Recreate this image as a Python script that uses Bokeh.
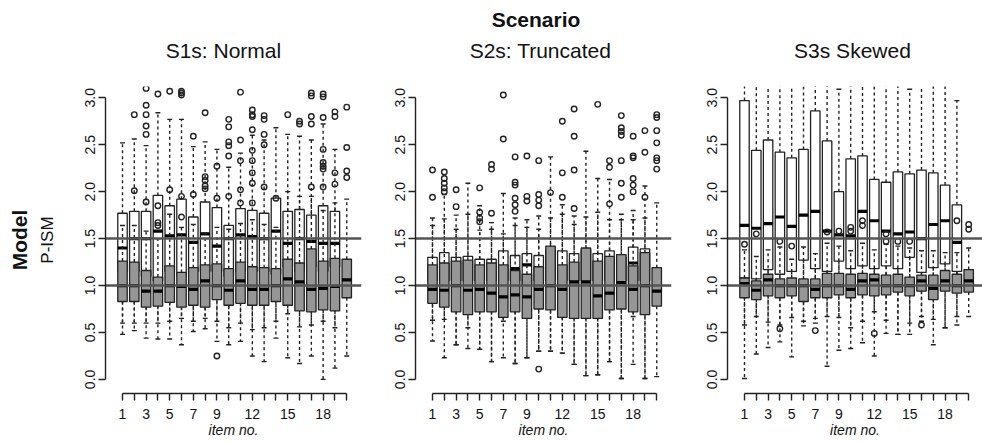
import math
from bokeh.plotting import figure
from bokeh.layouts import row, column
from bokeh.models import FixedTicker, PrintfTickFormatter, Title, Range1d, ColumnDataSource, Label
from bokeh.embed import file_html
from bokeh.resources import INLINE

NAN = float("nan")

# ---------------- data ----------------
items = list(range(1, 21))
x_labels_shown = [1, 3, 5, 7, 9, 12, 15, 18]
y_ticks = [0.0, 0.5, 1.0, 1.5, 2.0, 2.5, 3.0]
ref_lines = [1.0, 1.5]
panel_titles = ["S1s: Normal", "S2s: Truncated", "S3s Skewed"]
super_title = "Scenario"
row_title = "Model"
y_label = "P-ISM"
x_label = "item no."

# Panel S1s (white = first model, gray = second model)
s1_w_q1 = [1.15, 1.15, 1.10, 1.05, 1.15, 1.10, 1.15, 1.15, 1.15, 1.10, 1.15, 1.15, 1.15, 1.12, 1.20, 1.15, 1.20, 1.15, 1.20, NAN]
s1_w_med = [1.40, 1.50, 1.50, 1.58, 1.53, 1.54, 1.46, 1.55, 1.42, 1.50, 1.54, 1.52, 1.50, 1.58, 1.45, 1.50, 1.47, 1.45, 1.45, NAN]
s1_w_q3 = [1.77, 1.79, 1.79, 1.96, 1.85, 1.92, 1.73, 1.89, 1.83, 1.64, 1.82, 1.80, 1.77, 1.93, 1.79, 1.81, 1.75, 1.85, 1.79, NAN]
s1_w_lo = [0.60, 0.60, 0.60, 0.60, 0.62, 0.65, 0.62, 0.65, 0.62, 0.55, 0.60, 0.53, 0.55, 0.62, 0.70, 0.56, 0.58, 0.62, 0.55, NAN]
s1_w_hi = [2.52, 2.56, 2.49, 2.84, 2.77, 2.77, 2.48, 2.53, 2.45, 2.26, 2.41, 2.60, 2.55, 2.68, 2.61, 2.59, 2.55, 2.72, 2.45, NAN]
s1_w_out = [[], [2.82], [3.10, 2.92, 2.82, 2.70, 2.61], [3.04], [3.07], [3.07, 3.05, 3.03], [2.59], [2.84], [],
            [2.77, 2.69, 2.53, 2.49, 2.38], [3.06, 2.55], [2.87, 2.82, 2.80, 2.66], [2.81, 2.77, 2.61], [], [2.82],
            [2.75, 2.72], [3.05, 3.02, 2.80, 2.72], [3.04, 3.01, 2.79], [2.85, 2.80], []]
s1_g_q1 = [0.83, 0.83, 0.77, 0.78, 0.82, 0.77, 0.79, 0.77, 0.85, 0.79, 0.81, 0.79, 0.79, 0.83, 0.79, 0.73, 0.72, 0.74, 0.73, 0.87]
s1_g_med = [1.00, 1.00, 0.94, 0.94, 1.00, 0.99, 0.96, 1.05, 1.00, 0.95, 1.05, 0.96, 0.96, 1.00, 1.07, 1.04, 0.96, 0.97, 0.99, 1.06]
s1_g_q3 = [1.26, 1.25, 1.16, 1.09, 1.21, 1.14, 1.19, 1.22, 1.23, 1.18, 1.25, 1.20, 1.19, 1.18, 1.28, 1.24, 1.39, 1.26, 1.29, 1.28]
s1_g_lo = [0.48, 0.52, 0.44, 0.43, 0.43, 0.37, 0.51, 0.54, 0.405, 0.37, 0.405, 0.25, 0.19, 0.44, 0.23, 0.17, 0.25, 0.00, 0.12, 0.25]
s1_g_hi = [1.64, 1.64, 1.58, 1.50, 1.76, 1.62, 1.65, 1.56, 1.62, 1.60, 1.66, 1.70, 1.65, 1.62, 2.00, 1.95, 1.95, 1.80, 1.88, 1.92]
s1_g_out = [[], [2.01], [1.89], [1.85, 1.67, 1.64], [2.02], [1.95, 1.73], [1.97], [2.16, 2.12, 2.06, 2.03], [2.27, 1.93, 0.25],
            [1.95], [2.33, 2.02, 1.88], [2.44, 2.33, 2.20, 2.09, 1.88], [2.50, 2.05], [1.93], [], [], [2.05],
            [2.45, 2.31, 2.27, 2.24, 2.05], [2.20, 2.08], [2.90, 2.47, 2.22, 2.15]]

# Panel S2s
s2_w_q1 = [1.05, 1.05, 1.05, 1.05, 1.05, 1.05, 1.05, 1.05, 1.00, 1.05, 1.05, 1.05, 1.05, 1.05, 1.05, 1.05, 1.05, 1.05, 1.05, NAN]
s2_w_med = [1.18, 1.20, 1.22, 1.23, 1.18, 1.20, 1.18, 1.18, 1.22, 1.16, 1.35, 1.18, 1.21, 1.35, 1.22, 1.27, 1.28, 1.24, 1.31, NAN]
s2_w_q3 = [1.30, 1.35, 1.30, 1.31, 1.28, 1.28, 1.37, 1.32, 1.34, 1.32, 1.38, 1.37, 1.34, 1.38, 1.34, 1.37, 1.30, 1.41, 1.39, NAN]
s2_w_lo = [0.63, 0.64, 0.37, 0.55, 0.32, 0.19, 0.62, 0.17, 0.23, 0.30, 0.30, 0.28, 0.16, 0.04, 0.05, 0.19, 0.01, 0.67, 0.01, NAN]
s2_w_hi = [1.72, 1.97, 1.75, 2.09, 1.85, 1.67, 1.98, 1.72, 1.70, 1.74, 2.37, 1.86, 1.74, 2.43, 2.14, 2.13, 1.76, 1.80, 2.06, NAN]
s2_w_out = [[2.23, 1.94], [2.21, 2.14, 2.09, 2.04, 2.00], [2.02, 1.84], [], [2.04, 1.78, 1.72, 1.68], [2.29, 2.24, 1.77],
            [3.03, 2.56], [2.37, 2.10, 2.07, 1.93, 1.86, 1.79], [2.38, 1.95, 1.90], [2.33, 1.97, 1.91, 1.85], [],
            [2.75, 2.20, 1.94], [2.88, 2.59, 2.23, 1.82], [], [2.93], [2.33, 2.26, 1.87],
            [2.81, 2.68, 2.64, 2.60, 2.33, 2.09, 1.94], [2.59, 2.38, 2.36, 2.14, 2.07, 2.00], [2.65, 2.42, 1.94], []]
s2_g_q1 = [0.81, 0.77, 0.72, 0.69, 0.72, 0.72, 0.66, 0.72, 0.65, 0.75, 0.74, 0.66, 0.65, 0.65, 0.65, 0.74, 0.75, 0.72, 0.69, 0.78]
s2_g_med = [0.96, 0.95, 1.00, 0.95, 0.96, 0.92, 0.88, 0.90, 0.88, 0.96, 1.00, 0.96, 1.04, 1.04, 0.89, 0.92, 1.03, 0.96, 1.00, 0.94]
s2_g_q3 = [1.22, 1.24, 1.26, 1.27, 1.22, 1.24, 1.22, 1.16, 1.12, 1.20, 1.42, 1.22, 1.25, 1.40, 1.26, 1.31, 1.33, 1.21, 1.35, 1.19]
s2_g_lo = [0.41, 0.23, 0.37, 0.33, 0.32, 0.19, 0.23, 0.17, 0.23, 0.30, 0.30, 0.28, 0.16, 0.04, 0.05, 0.19, 0.01, 0.16, 0.01, 0.03]
s2_g_hi = [1.64, 1.71, 1.60, 1.76, 1.59, 1.60, 1.55, 1.64, 1.62, 1.60, 1.72, 1.76, 1.65, 1.73, 1.78, 1.70, 1.70, 1.70, 1.72, 1.88]
s2_g_out = [[], [], [], [], [], [], [], [], [], [0.11], [1.99], [], [], [], [], [], [], [], [],
            [2.82, 2.79, 2.65, 2.52, 2.36, 2.33, 2.24]]

# Panel S3s
s3_w_q1 = [1.08, 1.07, 1.17, 1.12, 1.15, 1.27, 1.18, 1.15, 1.26, 1.18, 1.21, 1.18, 1.21, 1.18, 1.30, 1.14, 1.19, 1.23, 1.15, NAN]
s3_w_med = [1.64, 1.61, 1.66, 1.73, 1.63, 1.75, 1.79, 1.58, 1.54, 1.53, 1.79, 1.69, 1.58, 1.55, 1.57, 1.50, 1.65, 1.69, 1.46, NAN]
s3_w_q3 = [2.97, 2.44, 2.55, 2.42, 2.36, 2.45, 2.86, 2.54, 2.00, 2.35, 2.38, 2.13, 2.10, 2.21, 2.19, 2.23, 2.20, 2.07, 1.86, NAN]
s3_w_lo = [0.01, 0.27, 0.34, 0.40, 0.24, 0.57, 0.60, 0.14, 0.31, 0.33, 0.39, 0.25, 0.49, 0.48, 0.48, 0.62, 0.37, 0.55, 0.58, NAN]
s3_w_hi = [3.50, 3.45, 3.40, 3.40, 3.35, 3.40, 3.50, 3.40, 3.09, 3.35, 3.35, 3.30, 3.30, 3.30, 3.09, 3.30, 3.30, 3.25, 2.97, NAN]
s3_w_out = [[] for _ in items]
s3_g_q1 = [0.87, 0.85, 0.89, 0.87, 0.89, 0.83, 0.87, 0.87, 0.90, 0.87, 0.90, 0.89, 0.90, 0.93, 0.89, 0.94, 0.85, 0.94, 0.92, 0.93]
s3_g_med = [1.02, 0.95, 1.06, 1.00, 1.00, 1.00, 0.96, 1.00, 1.00, 0.96, 1.05, 1.06, 1.00, 1.00, 1.00, 1.05, 0.97, 1.05, 1.00, 1.05]
s3_g_q3 = [1.08, 1.05, 1.12, 1.07, 1.08, 1.07, 1.07, 1.13, 1.13, 1.12, 1.13, 1.12, 1.11, 1.12, 1.09, 1.11, 1.11, 1.16, 1.12, 1.17]
s3_g_lo = [0.58, 0.67, 0.61, 0.58, 0.66, 0.62, 0.65, 0.67, 0.66, 0.55, 0.62, 0.72, 0.63, 0.48, 0.60, 0.67, 0.64, 0.55, 0.67, 0.67]
s3_g_hi = [1.38, 1.31, 1.38, 1.41, 1.28, 1.41, 1.34, 1.45, 1.42, 1.37, 1.45, 1.38, 1.44, 1.42, 1.40, 1.37, 1.37, 1.35, 1.35, 1.40]
s3_g_out = [[1.44], [1.55], [], [1.47, 0.54], [1.42], [], [0.52], [1.57], [1.58], [1.58, 1.62], [1.64, 1.69], [0.49],
            [1.47, 1.55], [1.47], [1.47], [0.58], [], [], [1.69], [1.65, 1.60]]

panels = [
    ((s1_w_q1, s1_w_med, s1_w_q3, s1_w_lo, s1_w_hi, s1_w_out), (s1_g_q1, s1_g_med, s1_g_q3, s1_g_lo, s1_g_hi, s1_g_out)),
    ((s2_w_q1, s2_w_med, s2_w_q3, s2_w_lo, s2_w_hi, s2_w_out), (s2_g_q1, s2_g_med, s2_g_q3, s2_g_lo, s2_g_hi, s2_g_out)),
    ((s3_w_q1, s3_w_med, s3_w_q3, s3_w_lo, s3_w_hi, s3_w_out), (s3_g_q1, s3_g_med, s3_g_q3, s3_g_lo, s3_g_hi, s3_g_out)),
]

# ---------------- style / layout ----------------
FONT = "Liberation Sans"
TXT = "#111111"
EDGE = "#222222"
WHITE = "#ffffff"
GRAY = "#969696"
LINE = "#545454"
BOX_W = 0.8
CAP_W = 0.42
HEADER_H = 70
BODY_H = 372
X_START = -0.44
Y_RANGE = (-0.15, 3.12)
HEADER_Y_RANGE = (3.29, 4.036)      # continuation of the panels' y scale above the frames
TITLE_X = [9.55, 10.15, 10.15]
TITLE_Y = 3.50
SUPER_X = 9.77
SUPER_Y = 3.835
WIDTHS = [365, 310, 307]
X_ENDS = [21.25, 21.25, 21.17]
LEFT_B = [105, 50, 52]
RIGHT_B = [4, 4, 0]


def add_series(p, stats, fill):
    q1, med, q3, lo, hi, outs = stats
    d = dict(x=[], q1=[], med=[], q3=[], lo=[], hi=[], xl=[], xr=[], cl=[], cr=[])
    ox, oy = [], []
    for i, x in enumerate(items):
        for v in outs[i]:
            ox.append(x)
            oy.append(v)
        if math.isnan(q3[i]):
            continue
        d["x"].append(x)
        d["q1"].append(q1[i]); d["med"].append(med[i]); d["q3"].append(q3[i])
        d["lo"].append(lo[i]); d["hi"].append(hi[i])
        d["xl"].append(x - BOX_W / 2); d["xr"].append(x + BOX_W / 2)
        d["cl"].append(x - CAP_W / 2); d["cr"].append(x + CAP_W / 2)
    src = ColumnDataSource(d)
    p.segment("x", "q3", "x", "hi", source=src, line_color=EDGE, line_width=1.4, line_dash="3 3")
    p.segment("x", "q1", "x", "lo", source=src, line_color=EDGE, line_width=1.4, line_dash="3 3")
    p.segment("cl", "hi", "cr", "hi", source=src, line_color=EDGE, line_width=1.4)
    p.segment("cl", "lo", "cr", "lo", source=src, line_color=EDGE, line_width=1.4)
    p.vbar(x="x", width=BOX_W, bottom="q1", top="q3", source=src,
           fill_color=fill, line_color=EDGE, line_width=1.3)
    p.segment("xl", "med", "xr", "med", source=src, line_color="#000000", line_width=3.2, line_cap="butt")
    p.scatter(ox, oy, marker="circle", size=5.5, fill_color=None, line_color=EDGE, line_width=1.4)


def make_header(k):
    h = figure(width=WIDTHS[k], height=HEADER_H,
               x_range=Range1d(X_START, X_ENDS[k]), y_range=Range1d(*HEADER_Y_RANGE),
               output_backend="svg", toolbar_location=None,
               x_axis_location=None, y_axis_location=None,
               min_border_left=LEFT_B[k], min_border_right=RIGHT_B[k],
               min_border_top=0, min_border_bottom=0,
               outline_line_color=None, background_fill_color="white",
               border_fill_color="white")
    h.grid.visible = False
    h.add_layout(Label(x=TITLE_X[k], y=TITLE_Y, text=panel_titles[k], text_align="center",
                       text_baseline="middle", text_font=FONT, text_font_size="21px",
                       text_color=TXT))
    if k == 1:
        h.add_layout(Label(x=SUPER_X, y=SUPER_Y, text=super_title, text_align="center",
                           text_baseline="middle", text_font=FONT, text_font_size="21px",
                           text_font_style="bold", text_color=TXT))
    return h


def make_panel(k):
    p = figure(width=WIDTHS[k], height=BODY_H,
               x_range=Range1d(X_START, X_ENDS[k]), y_range=Range1d(*Y_RANGE),
               output_backend="svg", toolbar_location=None,
               min_border_left=LEFT_B[k], min_border_right=RIGHT_B[k],
               min_border_top=16, min_border_bottom=49,
               outline_line_color=None, background_fill_color="white",
               border_fill_color="white")
    p.grid.visible = False

    white_stats, gray_stats = panels[k]
    add_series(p, white_stats, WHITE)
    add_series(p, gray_stats, GRAY)
    p.hspan(y=ref_lines, line_color=LINE, line_width=2.6)

    xa = p.xaxis[0]
    xa.ticker = FixedTicker(ticks=items)
    xa.major_label_overrides = {t: "" for t in items if t not in x_labels_shown}
    xa.bounds = (items[0], items[-1])
    xa.minor_tick_line_color = None
    xa.major_tick_in = 0
    xa.major_tick_out = 7
    xa.major_label_standoff = 8
    xa.axis_line_width = 1.4
    xa.axis_line_color = "#222222"
    xa.major_tick_line_width = 1.4
    xa.major_tick_line_color = "#222222"
    xa.major_label_text_font = FONT
    xa.major_label_text_font_size = "14px"
    xa.major_label_text_color = TXT
    xa.axis_label = x_label
    xa.axis_label_text_font = FONT
    xa.axis_label_text_font_size = "14px"
    xa.axis_label_text_font_style = "italic"
    xa.axis_label_text_color = TXT
    xa.axis_label_standoff = 0

    ya = p.yaxis[0]
    ya.ticker = FixedTicker(ticks=y_ticks)
    ya.formatter = PrintfTickFormatter(format="%.1f")
    ya.bounds = (y_ticks[0], y_ticks[-1])
    ya.minor_tick_line_color = None
    ya.major_tick_in = 0
    ya.major_tick_out = 7
    ya.major_label_standoff = 3
    ya.major_label_orientation = "vertical"
    ya.axis_line_width = 1.4
    ya.axis_line_color = "#222222"
    ya.major_tick_line_width = 1.4
    ya.major_tick_line_color = "#222222"
    ya.major_label_text_font = FONT
    ya.major_label_text_font_size = "14px"
    ya.major_label_text_color = TXT

    if k == 0:
        ya.axis_label = y_label
        ya.axis_label_text_font = FONT
        ya.axis_label_text_font_size = "17px"
        ya.axis_label_text_font_style = "normal"
        ya.axis_label_text_color = TXT
        ya.axis_label_standoff = 26
        p.add_layout(Title(text=row_title, align="center", text_font=FONT,
                           text_font_size="21px", text_font_style="bold",
                           text_color=TXT, standoff=7), "left")
    return p


headers = [make_header(k) for k in range(3)]
bodies = [make_panel(k) for k in range(3)]

layout = column(row(*headers), row(*bodies))
open("out.html", "w").write(file_html(layout, INLINE))
